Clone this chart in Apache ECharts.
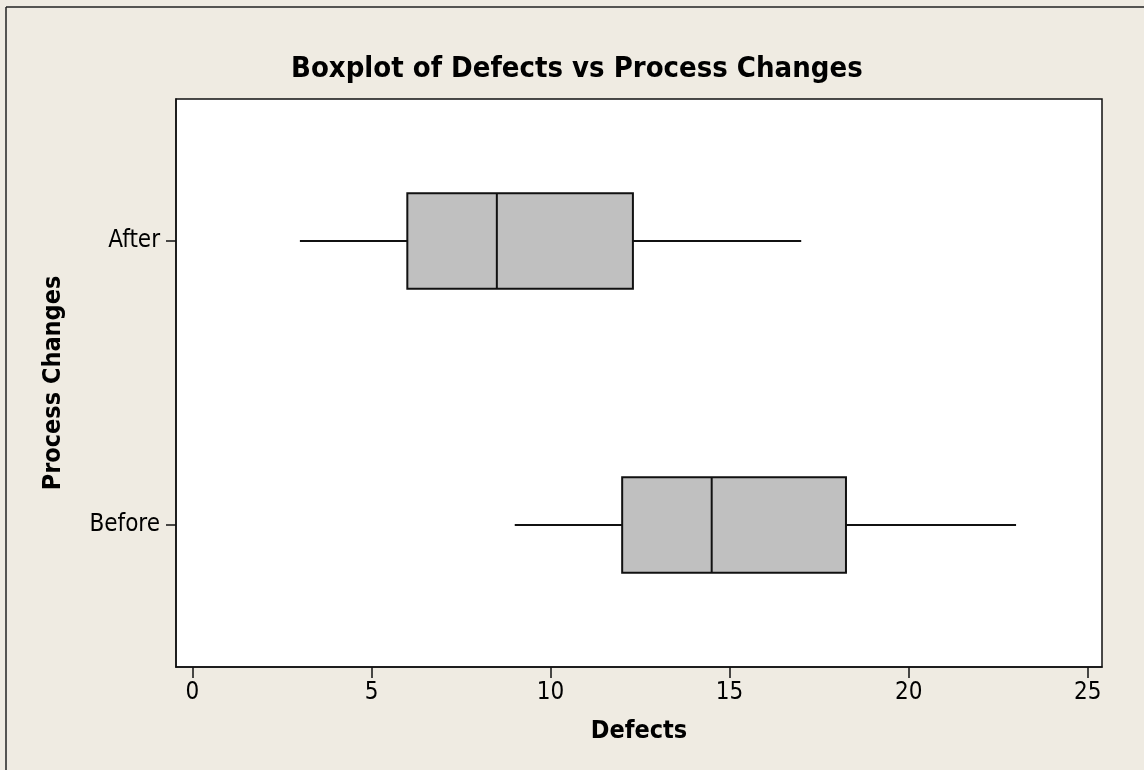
<!DOCTYPE html>
<html>
<head>
<meta charset="utf-8">
<script src="https://cdn.jsdelivr.net/npm/echarts@6/dist/echarts.min.js"></script>
<style>
html,body{margin:0;padding:0;background:#EFEBE2;}
#chart{width:1144px;height:770px;}
</style>
</head>
<body>
<div id="chart"></div>
<script>
const categories = ['Before', 'After'];
const whiskerMin = [9, 3];
const q1 = [12, 6];
const median = [14.5, 8.5];
const q3 = [18.25, 12.3];
const whiskerMax = [23, 17];
const xTicks = [0, 5, 10, 15, 20, 25];

const FONT = '"DejaVu Sans Condensed", "DejaVu Sans", sans-serif';

const rows = categories.map((c, i) => [i, whiskerMin[i], q1[i], median[i], q3[i], whiskerMax[i]]);

function renderItem(params, api) {
  const i = api.value(0);
  const pMin = api.coord([api.value(1), i]);
  const pQ1 = api.coord([api.value(2), i]);
  const pMed = api.coord([api.value(3), i]);
  const pQ3 = api.coord([api.value(4), i]);
  const pMax = api.coord([api.value(5), i]);
  const band = api.size([0, 1])[1];
  const h = band * 0.337;
  const y = pMed[1];
  const lineStyle = { stroke: '#111', lineWidth: 2 };
  return {
    type: 'group',
    children: [
      { type: 'line', shape: { x1: pMin[0], y1: y, x2: pQ1[0], y2: y }, style: lineStyle },
      { type: 'line', shape: { x1: pQ3[0], y1: y, x2: pMax[0], y2: y }, style: lineStyle },
      { type: 'rect', shape: { x: pQ1[0], y: y - h / 2, width: pQ3[0] - pQ1[0], height: h }, style: { fill: '#C0C0C0', stroke: '#111', lineWidth: 2 } },
      { type: 'line', shape: { x1: pMed[0], y1: y - h / 2, x2: pMed[0], y2: y + h / 2 }, style: lineStyle }
    ]
  };
}

const chart = echarts.init(document.getElementById('chart'), null, { renderer: 'canvas' });
chart.setOption({
  backgroundColor: '#EFEBE2',
  animation: false,
  title: {
    text: 'Boxplot of Defects vs Process Changes',
    left: 286,
    top: 50,
    textStyle: { fontFamily: FONT, fontSize: 29, fontWeight: 'bold', color: '#000' }
  },
  graphic: [
    { type: 'line', shape: { x1: 6, y1: 7, x2: 6, y2: 770 }, style: { stroke: '#222', lineWidth: 1.5 } },
    { type: 'line', shape: { x1: 6, y1: 7, x2: 1144, y2: 7 }, style: { stroke: '#222', lineWidth: 1.5 } }
  ],
  grid: {
    left: 176, right: 42, top: 99, bottom: 103,
    show: true, backgroundColor: '#fff', borderColor: '#111', borderWidth: 1.5
  },
  xAxis: {
    type: 'value',
    min: -0.46,
    max: 25.4,
    name: 'Defects',
    nameLocation: 'middle',
    nameGap: 52,
    nameTextStyle: { fontFamily: FONT, fontSize: 25, fontWeight: 'bold', color: '#000' },
    splitLine: { show: false },
    axisLine: { show: true, onZero: false, lineStyle: { color: '#111', width: 1.5 } },
    axisTick: { show: true, length: 11, lineStyle: { color: '#111', width: 1.5 }, customValues: xTicks },
    axisLabel: { fontFamily: FONT, fontSize: 24, color: '#000', margin: 14, customValues: xTicks }
  },
  yAxis: {
    type: 'category',
    data: categories,
    name: 'Process Changes',
    nameLocation: 'middle',
    nameRotate: 90,
    nameGap: 110,
    nameTextStyle: { fontFamily: FONT, fontSize: 25, fontWeight: 'bold', color: '#000' },
    axisLine: { show: true, onZero: false, lineStyle: { color: '#111', width: 1.5 } },
    axisTick: { show: true, alignWithLabel: true, length: 10, lineStyle: { color: '#111', width: 1.5 } },
    axisLabel: { fontFamily: FONT, fontSize: 24, color: '#000', margin: 16 },
    splitLine: { show: false }
  },
  series: [{
    type: 'custom',
    renderItem: renderItem,
    encode: { x: [1, 2, 3, 4, 5], y: 0 },
    data: rows
  }]
});
</script>
</body>
</html>
